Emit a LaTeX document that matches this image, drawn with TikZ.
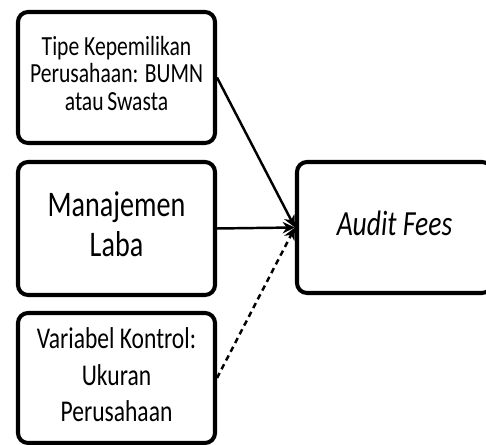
\documentclass[tikz,border=0pt]{standalone}
\usepackage{fontspec}
\setmainfont{Carlito}
\usetikzlibrary{arrows.meta}

% text is a little taller than wide in the picture
\newcommand{\tall}[3]{\scalebox{1}[1.28]{\fontsize{#1}{#2}\selectfont\begin{tabular}{@{}c@{}}#3\end{tabular}}}

\begin{document}
\begin{tikzpicture}[
  box/.style={draw, line width=2.3pt, rounded corners=0.2cm, inner sep=0pt},
  link/.style={line width=1.4pt, -{Stealth[length=7pt,width=6.5pt]}}]
\useasboundingbox (0,0) rectangle (9.72,8.9);
\node[box, minimum width=3.94cm, minimum height=2.62cm] (owner) at (2.33,7.35) {\tall{12.3}{12.2}{Tipe Kepemilikan\\Perusahaan: BUMN\\atau\,Swasta}};
\node[box, minimum width=3.94cm, minimum height=2.66cm] (earn) at (2.33,4.33) {\tall{16}{18.1}{Manajemen\\Laba}};
\node[box, minimum width=3.94cm, minimum height=2.6cm] (size) at (2.33,1.34) {\tall{13.4}{16.3}{Variabel Kontrol:\\Ukuran\\Perusahaan}};
\node[box, minimum width=3.9cm, minimum height=2.62cm] (fees) at (7.89,4.35) {\tall{15.7}{18}{\itshape Audit Fees}};
\draw[link] (owner.east) -- (fees.west);
\draw[link] (earn.east) -- (fees.west);
\draw[link, dash pattern=on 3.2pt off 2.4pt] (size.east) -- (fees.west);
\end{tikzpicture}
\end{document}
